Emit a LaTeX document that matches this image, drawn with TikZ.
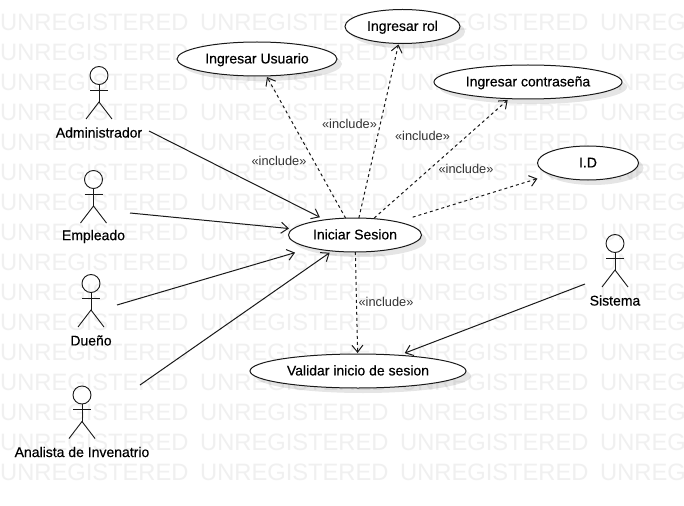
\documentclass[tikz,border=0pt]{standalone}
\usepackage{fontspec}
\setmainfont{Liberation Sans}
\newfontfamily\namefont[FakeBold=0.4]{Liberation Sans}
\usetikzlibrary{shapes.geometric,arrows.meta,shadows}
\tikzset{
  usecase/.style={ellipse, draw=black!90, fill=white, line width=1pt, inner sep=0pt, outer sep=0pt,
    minimum height=34pt, text height=10pt, text depth=1.2pt, font=\namefont\fontsize{14}{15}\selectfont,
    drop shadow={shadow xshift=5pt, shadow yshift=-5pt, fill=black, opacity=0.10}},
  actorhead/.style={circle, draw=black!90, line width=0.9pt, minimum size=18pt, inner sep=0pt, outer sep=0pt},
  actorlabel/.style={font=\namefont\fontsize{14}{15}\selectfont, inner sep=0pt},
  inclabel/.style={font=\fontsize{12.8}{15}\selectfont, text=black!80, inner sep=0pt},
  assoc/.style={draw=black!90, line width=1pt, -{Straight Barb[length=7pt,width=11pt]}},
  incl/.style={assoc, dash pattern=on 3pt off 3pt},
  wmark/.style={font=\fontsize{23.7}{26}\selectfont, text=black!6, anchor=west, inner sep=0pt}
}
\newcommand{\actorfig}[4]{
\node[actorhead] (#1) at (#2,#3){};
\node[actorlabel] (#1lbl) at (#2,#3+57){#4};
\draw[draw=black!90, line width=0.9pt] (#1.south) -- ++(0,17.5);
\draw[draw=black!90, line width=0.9pt] (#1.south) ++(-9,5.5) -- ++(18,0);
\draw[draw=black!90, line width=0.9pt] (#1.south) ++(-13,34.5) -- ++(13,-17) -- ++(13,17);
}
\begin{document}
\begin{tikzpicture}[x=1pt,y=-1pt]
\useasboundingbox (0,0) rectangle (684,505);
\clip (0,0) rectangle (684,505);
\fill[white] (0,0) rectangle (684,505);
% watermark
\foreach \row in {0,...,15}
  \foreach \col in {0,...,3}
    \node[wmark] (wm\row-\col) at (200*\col,22+30*\row){UNREGISTERED};
% actors
\actorfig{admin}{99}{75.5}{Administrador}
\actorfig{empleado}{93.5}{179.5}{Empleado}
\actorfig{dueno}{91}{283.5}{Dueño}
\actorfig{analista}{82}{395}{Analista de Invenatrio}
\actorfig{sistema}{615}{243.5}{Sistema}
% use cases
\node[usecase, minimum width=160pt] (usuario) at (257,59){Ingresar Usuario};
\node[usecase, minimum width=115pt] (rol) at (402.5,26.5){Ingresar rol};
\node[usecase, minimum width=188pt] (contrasena) at (528,82){Ingresar contraseña};
\node[usecase, minimum width=101pt] (idcase) at (588,163){I.D};
\node[usecase, minimum width=133pt] (iniciar) at (355,235){Iniciar Sesion};
\node[usecase, minimum width=216pt] (validar) at (358,371){Validar inicio de sesion};
% free ends near the actors
\coordinate (cAdmin) at (149,131);
\coordinate (cEmpleado) at (130,213);
\coordinate (cDueno) at (117,305);
\coordinate (cAnalista) at (140,385);
\coordinate (cSistema) at (585,284);
% associations
\draw[assoc, shorten >=5.7pt] (cAdmin) -- (iniciar);
\draw[assoc, shorten >=4pt] (cEmpleado) -- (iniciar);
\draw[assoc, shorten >=17pt] (cDueno) -- (iniciar);
\draw[assoc, shorten >=3pt] (cAnalista) -- (iniciar);
\draw[assoc, shorten >=6pt] (cSistema) -- (validar);
% includes
\draw[incl, shorten >=1.3pt] (iniciar) -- (usuario);
\draw[incl, shorten >=1pt] (iniciar) -- (rol);
\draw[incl, shorten <=1pt, shorten >=2pt] (iniciar) -- (contrasena);
\draw[incl, shorten <=16pt, shorten >=14pt] (iniciar) -- (idcase);
\draw[incl, shorten >=1pt] (iniciar) -- (validar);
% labels
\node[inclabel] (inc1) at (279,161){«include»};
\node[inclabel] (inc2) at (349.5,124){«include»};
\node[inclabel] (inc3) at (422.5,136){«include»};
\node[inclabel] (inc4) at (466,169){«include»};
\node[inclabel] (inc5) at (386,302){«include»};
\end{tikzpicture}
\end{document}
